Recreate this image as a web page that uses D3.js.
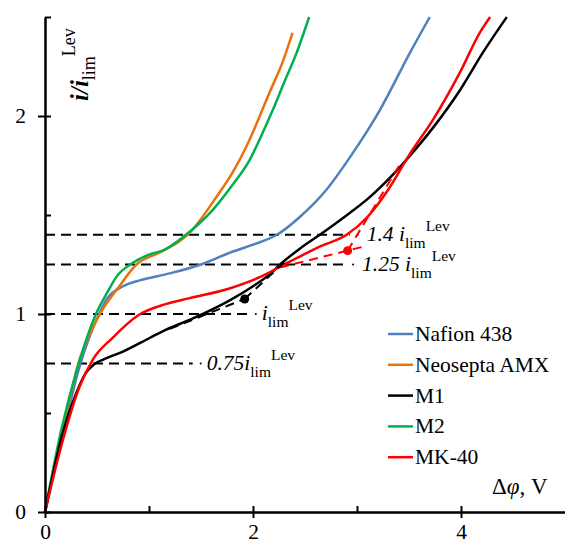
<!DOCTYPE html>
<html>
<head>
<meta charset="utf-8">
<script src="https://cdn.jsdelivr.net/npm/d3@7"></script>
<style>
  body { margin: 0; background: #fff; }
</style>
</head>
<body>
<div class="chart-container"></div>
<script>
// Polarization curves, values
const nafionX = [0, 0.17, 0.33, 0.52, 0.6, 0.75, 0.91, 1.2, 1.5, 1.78, 2.0, 2.23, 2.45, 2.71, 2.93, 3.22, 3.51, 3.70];
const nafionY = [0, 0.39, 0.73, 1.0, 1.08, 1.14, 1.17, 1.205, 1.25, 1.31, 1.35, 1.40, 1.49, 1.63, 1.79, 2.03, 2.32, 2.5];

const amxX = [0, 0.16, 0.32, 0.45, 0.55, 0.7, 0.88, 1.1, 1.30, 1.39, 1.5, 1.62, 1.81, 1.94, 2.16, 2.29, 2.38];
const amxY = [0, 0.39, 0.75, 0.92, 1.02, 1.13, 1.25, 1.31, 1.37, 1.41, 1.48, 1.57, 1.72, 1.85, 2.12, 2.28, 2.42];

const m1X = [0, 0.17, 0.30, 0.39, 0.47, 0.56, 0.75, 1.01, 1.16, 1.39, 1.78, 2.0, 2.16, 2.26, 2.45, 2.67, 2.93, 3.10, 3.32, 3.51, 3.73, 3.99, 4.21, 4.44];
const m1Y = [0, 0.40, 0.60, 0.70, 0.745, 0.77, 0.81, 0.88, 0.92, 0.97, 1.07, 1.14, 1.20, 1.25, 1.33, 1.41, 1.51, 1.58, 1.69, 1.80, 1.94, 2.13, 2.32, 2.5];

const m2X = [0, 0.15, 0.33, 0.49, 0.6, 0.69, 0.85, 1.0, 1.13, 1.33, 1.62, 1.80, 1.97, 2.08, 2.19, 2.30, 2.42, 2.54];
const m2Y = [0, 0.40, 0.76, 1.0, 1.11, 1.19, 1.26, 1.30, 1.32, 1.39, 1.53, 1.65, 1.78, 1.90, 2.03, 2.17, 2.32, 2.5];

const mk40X = [0, 0.17, 0.33, 0.46, 0.65, 0.90, 1.16, 1.39, 1.78, 2.16, 2.26, 2.45, 2.64, 2.90, 3.10, 3.29, 3.51, 3.73, 3.99, 4.18, 4.28];
const mk40Y = [0, 0.36, 0.63, 0.77, 0.88, 0.995, 1.05, 1.08, 1.13, 1.21, 1.24, 1.29, 1.34, 1.40, 1.49, 1.62, 1.81, 1.98, 2.22, 2.42, 2.5];

const seriesNames = ["Nafion 438", "Neosepta AMX", "M1", "M2", "MK-40"];
const seriesColors = ["#4f81bd", "#e8720c", "#000000", "#00b050", "#ff0000"];

// levels of i/ilim^Lev marked by dashed lines, with how far they run
const levelValues = [1.4, 1.25, 1.0, 0.75];
const levelEnds = [2.93, 2.885, 1.95, 1.42];
const levelLabels = ["1.4 ", "1.25 ", "", "0.75"];

// tangents and their crossing points
const redTangents = [[[2.26, 1.235], [3.06, 1.34]], [[2.91, 1.32], [3.43, 1.77]]];
const redDot = [2.91, 1.32];
const blackTangents = [[[1.2, 0.925], [1.92, 1.076]], [[1.92, 1.076], [2.3, 1.26]]];
const blackDot = [1.92, 1.076];

const xTicks = [0, 2, 4];
const xMinor = [1, 3];
const yTicks = [0, 1, 2];
const yMinor = [0.5, 1.5, 2.5];

const width = 565;
const height = 548;
const serif = '"Liberation Serif", "Times New Roman", serif';

const x = d3.scaleLinear().domain([0, 5]).range([45, 565]);
const y = d3.scaleLinear().domain([0, 2.5]).range([512, 17]);

const svg = d3.select('.chart-container').append("svg")
    .attr("width", width)
    .attr("height", height)
    .style("font-family", serif);

const line = d3.line()
    .x(d => x(d[0]))
    .y(d => y(d[1]))
    .curve(d3.curveMonotoneX);

// dashed horizontal levels
levelValues.forEach((v, i) => {
    svg.append("line")
        .attr("x1", x(0)).attr("x2", x(levelEnds[i]))
        .attr("y1", y(v)).attr("y2", y(v))
        .attr("stroke", "#000").attr("stroke-width", 2)
        .attr("stroke-dasharray", "10,6");
    svg.append("circle")
        .attr("cx", x(levelEnds[i]) + 8).attr("cy", y(v))
        .attr("r", 1).attr("fill", "#000");
});

// curves
const allX = [nafionX, amxX, m1X, m2X, mk40X];
const allY = [nafionY, amxY, m1Y, m2Y, mk40Y];
const order = [0, 1, 3, 2, 4];
order.forEach(i => {
    const pts = allX[i].map((v, k) => [v, allY[i][k]]);
    svg.append("path")
        .attr("d", line(pts))
        .attr("fill", "none")
        .attr("stroke", seriesColors[i])
        .attr("stroke-width", 2.5)
        .attr("stroke-linejoin", "round");
});

// tangents
const straight = d3.line().x(d => x(d[0])).y(d => y(d[1]));
redTangents.forEach(t => {
    svg.append("path").attr("d", straight(t))
        .attr("fill", "none").attr("stroke", "#ff0000")
        .attr("stroke-width", 2).attr("stroke-dasharray", "9,6");
});
blackTangents.forEach(t => {
    svg.append("path").attr("d", straight(t))
        .attr("fill", "none").attr("stroke", "#000")
        .attr("stroke-width", 2).attr("stroke-dasharray", "9,6");
});
svg.append("circle").attr("cx", x(redDot[0])).attr("cy", y(redDot[1]))
    .attr("r", 4.5).attr("fill", "#ff0000");
svg.append("circle").attr("cx", x(blackDot[0])).attr("cy", y(blackDot[1]))
    .attr("r", 4.5).attr("fill", "#000");

// level labels
const labelGap = [17, 17, 14, 14];
levelValues.forEach((v, i) => {
    const t = svg.append("text")
        .attr("x", x(levelEnds[i]) + labelGap[i])
        .attr("y", y(v) + 6)
        .attr("font-family", serif)
        .attr("font-size", 21.5);
    t.append("tspan").attr("font-style", "italic").text(levelLabels[i] + "i");
    t.append("tspan").attr("font-size", 15.5).attr("dy", 7).text("lim");
    t.append("tspan").attr("font-size", 15.5).attr("dy", -17).text("Lev");
});

// axes
const axisStyle = g => {
    g.attr("font-family", serif);
    g.selectAll(".domain").attr("stroke-width", 2);
    g.selectAll(".tick line").attr("stroke-width", 2);
    g.selectAll(".tick text")
        .attr("font-size", 21.5)
        .attr("font-family", serif);
};

svg.append("g")
    .attr("transform", `translate(0,${y(0)})`)
    .call(d3.axisBottom(x).tickValues(xTicks).tickSize(6).tickSizeOuter(0).tickPadding(6).tickFormat(d3.format("d")))
    .call(axisStyle);
svg.append("g")
    .attr("transform", `translate(0,${y(0)})`)
    .call(d3.axisTop(x).tickValues(xTicks.concat(xMinor)).tickSize(6).tickSizeOuter(0).tickFormat(""))
    .call(axisStyle);

svg.append("g")
    .attr("transform", `translate(${x(0)},0)`)
    .call(d3.axisLeft(y).tickValues(yTicks).tickSize(7).tickSizeOuter(0).tickPadding(12).tickFormat(d3.format("d")))
    .call(axisStyle);
svg.append("g")
    .attr("transform", `translate(${x(0)},0)`)
    .call(d3.axisRight(y).tickValues(yTicks.concat(yMinor)).tickSize(6).tickSizeOuter(0).tickFormat(""))
    .call(axisStyle);

// axis titles
const yTitle = svg.append("text")
    .attr("transform", "translate(88,101) rotate(-90)")
    .attr("font-family", serif)
    .attr("font-size", 25);
yTitle.append("tspan").attr("font-style", "italic").attr("font-weight", "bold").text("i/i");
yTitle.append("tspan").attr("font-size", 18).attr("dy", 7).text("lim");
yTitle.append("tspan").attr("font-size", 18).attr("dy", -20).text("Lev");

const xTitle = svg.append("text")
    .attr("x", 492).attr("y", 494)
    .attr("font-family", serif)
    .attr("font-size", 23);
xTitle.append("tspan").text("\u0394");
xTitle.append("tspan").attr("font-style", "italic").text("\u03C6");
xTitle.append("tspan").text(", V");

// legend
const legend = svg.append("g").attr("id", "legend");
seriesNames.forEach((name, i) => {
    const ly = 334 + i * 30.8;
    legend.append("line")
        .attr("x1", 388).attr("x2", 413)
        .attr("y1", ly).attr("y2", ly)
        .attr("stroke", seriesColors[i]).attr("stroke-width", 2.5);
    legend.append("text")
        .attr("x", 415).attr("y", ly + 7)
        .attr("font-family", serif)
        .attr("font-size", 21.5)
        .text(name);
});
</script>
</body>
</html>
